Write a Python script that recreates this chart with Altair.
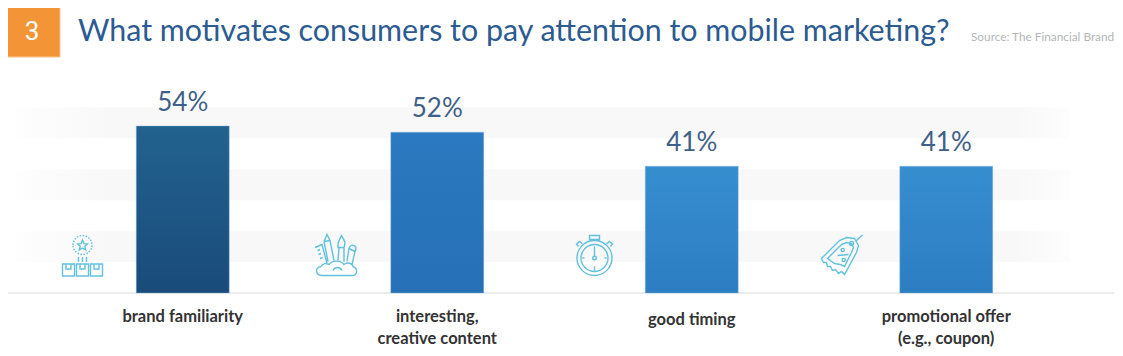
import re
import altair as alt
import pandas as pd

categories = ["brand familiarity", "interesting,\ncreative content", "good timing", "promotional offer\n(e.g., coupon)"]
values = [54, 52, 41, 41]
value_labels = ["54%", "52%", "41%", "41%"]
top_colors = ["#22628f", "#2b79c0", "#368ecf", "#368ecf"]
bottom_colors = ["#1a4b7a", "#2670b6", "#2c7dc2", "#2c7dc2"]
band_lo = [10, 30, 50]
band_hi = [20, 40, 60]

title_text = "What motivates consumers to pay attention to mobile marketing?"
source_text = "Source: The Financial Brand"
badge_text = "3"

ICON = "#62c1dd"


def circle(cx, cy, r):
    k = 0.5523 * r
    return (f"M{cx - r} {cy} C{cx - r} {cy - k} {cx - k} {cy - r} {cx} {cy - r} "
            f"C{cx + k} {cy - r} {cx + r} {cy - k} {cx + r} {cy} "
            f"C{cx + r} {cy + k} {cx + k} {cy + r} {cx} {cy + r} "
            f"C{cx - k} {cy + r} {cx - r} {cy + k} {cx - r} {cy} Z ")


def unit(path):
    """Map a path drawn in a 44x44 box on to the -1..1 box of a custom symbol."""
    return re.sub(r"-?\d+(?:\.\d+)?", lambda m: f"{(float(m.group()) - 22) / 22:.4f}", path)


icon_badge_ring = circle(22, 11, 9.5)
icon_badge = (
    "M22 6 L23.5 9.6 L27 10 L24.3 12.3 L25.2 16 L22 14 L18.8 16 L19.7 12.3 L17 10 L20.5 9.6 Z "
    "M18 23 L18 28 M22 23 L22 28 M26 23 L26 28 "
    "M2 30 L14 30 L14 42 L2 42 Z M16 30 L28 30 L28 42 L16 42 Z M30 30 L42 30 L42 42 L30 42 Z "
    "M5.5 30 L5.5 35 L10.5 35 L10.5 30 M19.5 30 L19.5 35 L24.5 35 L24.5 30 M33.5 30 L33.5 35 L38.5 35 L38.5 30"
)
icon_art = (
    "M8 42 C2 42 0 34 7 33 C9 29 13 30 15 31 C19 26 27 27 30 31 C34 28 38 30 39 33 C44 35 44 42 38 42 Z "
    "M19 37 C21 33 26 33 28 37 "
    "M1 14 L8 11 L13 30 M3.5 17 L6 16 M4.5 21 L7 20 M6 25 L8.5 24 "
    "M10 8 L13 1 L16 7 L20 27 M10 8 L14 28 M10 8 L16 7 "
    "M24 14 C23 8 26 6 27.5 2 C30 6 32 9 30 14 Z M25 14 L24 27 M30 14 L30 28 "
    "M33 28 L35 15 C36 12 38 11 40 12 C42 13 43 14 41 18 L38 31 M35 15 L41 18"
)
icon_watch = (
    circle(22, 24.5, 17.5) + circle(22, 24.5, 13.5) + circle(22, 24.5, 1.8) +
    "M17 2 L27 2 L27 6 L17 6 Z M20 6 L20 7.5 M24 6 L24 7.5 "
    "M6 13 L4 10.5 L7 8 L10 10.5 M38 13 L40 10.5 L37 8 L34 10.5 "
    "M22 13 L22 22.5 M22 33 L22 37 M10 24.5 L12 24.5 M32 24.5 L34 24.5"
)
icon_tag = (
    "M1 25 L19 7 L26 4 L34 5 L38 12 L36 19 L24 41 L21 38 L18 40 L15 36 L12 37 L10 33 L7 33 L6 29 L3 29 Z "
    "M7 25 L21 11 L26 9 L31 10 L33 14 L31 19 L24 33 L20 31 L14 30 Z "
    "M17 22 L28 21 M36 7 L42 1.5 " + circle(31, 10, 2) + circle(22.2, 16.5, 1.6) + circle(23.2, 26.5, 1.6)
)

W, H = 1107, 340
X = alt.X("category:N", sort=categories, axis=None,
          scale=alt.Scale(range=[47.5, 1065.5]))
Y_SCALE = alt.Scale(domain=[-17.78, 92.14], range=[H, 0], nice=False, zero=False)
Y = alt.Y("value:Q", axis=None, scale=Y_SCALE)

df = pd.DataFrame({"category": categories, "value": values, "label": value_labels})
bands = pd.DataFrame({"lo": band_lo, "hi": band_hi})

layers = []

band_fill = {"gradient": "linear", "x1": 0, "x2": 1, "y1": 0, "y2": 0, "stops": [
    {"offset": 0, "color": "#fefefe"}, {"offset": 0.09, "color": "#f8f8f8"},
    {"offset": 0.95, "color": "#f8f8f8"}, {"offset": 1, "color": "#fdfdfd"}]}
layers.append(alt.Chart(bands).mark_rect(color=band_fill).encode(
    x=alt.value(7), x2=alt.value(1061),
    y=alt.Y("lo:Q", axis=None, scale=Y_SCALE), y2="hi:Q"))

layers.append(alt.Chart(pd.DataFrame({"v": [0]})).mark_rule(color="#e4e6e8", strokeWidth=1.5).encode(
    x=alt.value(0), x2=alt.value(1106), y=alt.Y("v:Q", axis=None, scale=Y_SCALE)))

for i, cat in enumerate(categories):
    grad = {"gradient": "linear", "x1": 0, "x2": 0, "y1": 0, "y2": 1, "stops": [
        {"offset": 0, "color": top_colors[i]}, {"offset": 1, "color": bottom_colors[i]}]}
    layers.append(alt.Chart(df[df.category == cat]).mark_bar(
        size=93, color=grad, stroke="#8fbfe0", strokeWidth=0.6, strokeOpacity=0.7).encode(x=X, y=Y))

layers.append(alt.Chart(df).mark_text(
    font="Lato", fontSize=26, color="#3f6088", baseline="alphabetic", dy=-15).encode(x=X, y=Y, text="label:N"))

for i, cat in enumerate(categories):
    row = df[df.category == cat]
    layers.append(alt.Chart(row).mark_text(
        font="Lato", fontWeight="bold", fontSize=16.5, color="#333333", lineBreak="\n",
        lineHeight=21.5, baseline="middle").encode(
        x=X, y=alt.value(309 if "\n" in cat or i == 0 else 312), text="category:N"))


def icon(path, cx, cy, dash=None):
    kw = {"strokeDash": dash} if dash else {}
    return alt.Chart(pd.DataFrame({"v": [0]})).mark_point(
        shape=unit(path), size=44 * 44, filled=False, color=ICON, strokeWidth=1.4, opacity=1, **kw).encode(
        x=alt.value(cx - 8), y=alt.value(cy - 8))


layers += [
    icon(icon_badge_ring, 82.5, 256, [1.5, 1.5]),
    icon(icon_badge, 82.5, 256),
    icon(icon_art, 336, 255.5),
    icon(icon_watch, 594.5, 255.5),
    icon(icon_tag, 842.5, 255.5),
]

one = alt.Chart(pd.DataFrame({"v": [0]}))
layers.append(one.mark_rect(color="#f39436", stroke="#f8c58f", strokeWidth=1).encode(
    x=alt.value(-4), x2=alt.value(52), y=alt.value(-6), y2=alt.value(49)))
layers.append(one.mark_text(text=badge_text, font="Roboto", fontSize=26, color="#ffffff", align="center",
                            baseline="middle").encode(x=alt.value(24), y=alt.value(24)))
layers.append(one.mark_text(text=title_text, font="Lato", fontSize=30.4, color="#2b5b91", align="left",
                            baseline="alphabetic").encode(x=alt.value(70), y=alt.value(33)))
layers.append(one.mark_text(text=source_text, font="Lato", fontSize=11.8, color="#b4b6b8", align="left",
                            baseline="alphabetic").encode(x=alt.value(963), y=alt.value(33)))

chart = alt.layer(*layers).resolve_scale(x="shared", y="shared").properties(
    width=W, height=H, padding=0, autosize=alt.AutoSizeParams(type="none"),
    background="#ffffff"
).configure_view(stroke=None)

chart.save("out.html", embed_options={"renderer": "svg", "actions": False})
